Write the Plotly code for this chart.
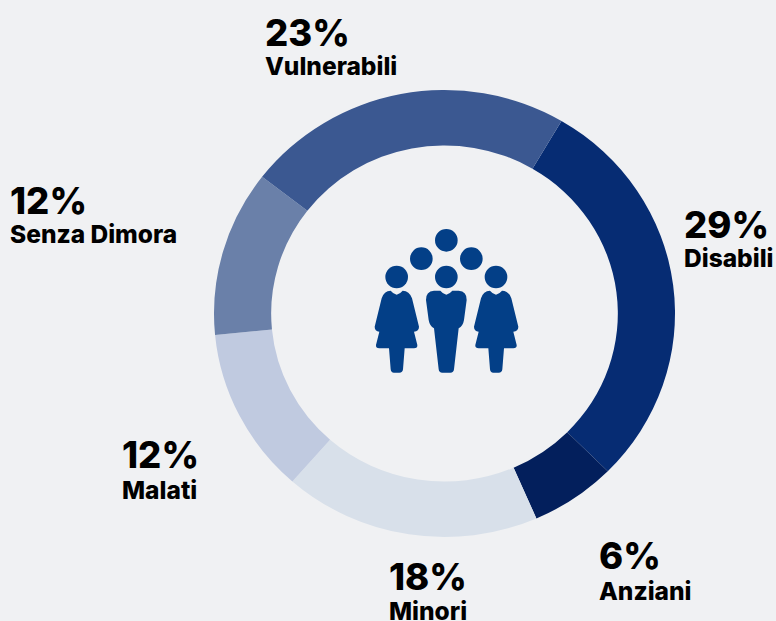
import plotly.graph_objects as go

W, H = 776, 621
categories = ["Disabili", "Anziani", "Minori", "Malati", "Senza Dimora", "Vulnerabili"]
values = [29, 6, 18, 12, 12, 23]
colors = ["#062c73", "#031f5c", "#d8e0ea", "#c0cae0", "#6a80a9", "#3b5891"]
label_left = [684, 599, 389, 122, 10, 265]
value_mid = [225, 556, 577, 455, 201, 33]
name_mid = [258, 591, 611, 490, 234, 66]

BG = "#f0f1f3"
ICON = "#033f87"
FONT = "Inter, 'Open Sans', sans-serif"
CX, CY, R = 444.5, 313.5, 223.5
X_STRETCH = 230.5 / 223.5


def px(x):
    return x / W


def py(y):
    return 1 - y / H


def zoom_path(cmds):
    """Icon outline given in pixels of a 3x crop at (360,220); converted to paper fractions."""
    out = []
    for c in cmds:
        op, pts = c[0], c[1:]
        out.append(op + " ".join(f"{px(360 + a / 3):.5f},{py(220 + b / 3):.5f}" for a, b in pts))
    return " ".join(out) + " Z"


def woman(dx):
    p = [("M", (110, 224)), ("Q", (100, 222), (92, 212)), ("Q", (72, 212), (65, 235)),
         ("L", (44, 320)), ("Q", (44, 333), (58, 335)), ("L", (48, 375)), ("Q", (47, 385), (58, 385)),
         ("L", (87, 385)), ("L", (92, 448)), ("Q", (93, 458), (102, 458)), ("L", (118, 458)),
         ("Q", (128, 458), (129, 448)), ("L", (134, 385)), ("L", (162, 385)), ("Q", (173, 385), (172, 375)),
         ("L", (162, 335)), ("Q", (177, 333), (177, 320)), ("L", (156, 235)), ("Q", (148, 212), (128, 212)),
         ("Q", (120, 222), (110, 224))]
    return [(c[0], *[(a + dx, b) for a, b in c[1:]]) for c in p]


man = [("M", (259, 224)), ("Q", (249, 222), (241, 212)), ("L", (222, 212)), ("Q", (197, 214), (198, 240)),
       ("L", (206, 300)), ("Q", (209, 318), (222, 325)), ("L", (236, 448)), ("Q", (237, 458), (247, 458)),
       ("L", (271, 458)), ("Q", (281, 458), (282, 448)), ("L", (296, 325)), ("Q", (309, 318), (312, 300)),
       ("L", (320, 240)), ("Q", (321, 214), (296, 212)), ("L", (277, 212)), ("Q", (269, 222), (259, 224))]

shapes = [dict(type="path", xref="paper", yref="paper", path=zoom_path(p), fillcolor=ICON, line_width=0)
          for p in (woman(0), man, woman(298))]
for hx, hy, r in [(259, 61, 34), (184, 116, 34), (334, 116, 34), (259, 171, 34), (110, 171, 34), (408, 171, 34)]:
    x, y = 360 + hx / 3, 220 + hy / 3
    r = r / 3
    shapes.append(dict(type="circle", xref="paper", yref="paper", x0=px(x - r), x1=px(x + r),
                       y0=py(y + r), y1=py(y - r), fillcolor=ICON, line_width=0))

annotations = []
for cat, v, lx, vm, nm in zip(categories, values, label_left, value_mid, name_mid):
    annotations.append(dict(text=f"{v}%", x=px(lx), y=py(vm), xref="paper", yref="paper", xanchor="left",
                            yanchor="middle", showarrow=False, xshift=-2,
                            font=dict(family=FONT, size=36.5, color="#000000", weight=800)))
    annotations.append(dict(text=cat, x=px(lx), y=py(nm), xref="paper", yref="paper", xanchor="left",
                            yanchor="middle", showarrow=False, xshift=-2,
                            font=dict(family=FONT, size=24.5, color="#000000", weight=800)))

fig = go.Figure(go.Pie(
    labels=categories, values=values, marker=dict(colors=colors, line_width=0),
    hole=0.752, sort=False, direction="clockwise", rotation=30.5, textinfo="none", showlegend=False,
    domain=dict(x=[px(CX - R), px(CX + R)], y=[py(CY + R), py(CY - R)]),
))
fig.update_layout(width=W, height=H, margin=dict(l=0, r=0, t=0, b=0), paper_bgcolor=BG, plot_bgcolor=BG,
                  shapes=shapes, annotations=annotations)
post = f"""
document.body.style.margin = '0';
document.body.style.background = '{BG}';
document.documentElement.style.overflow = 'hidden';
var pl = document.querySelector('.pielayer');
if (pl) pl.setAttribute('transform', 'translate({CX},{CY}) scale({X_STRETCH},1) translate({-CX},{-CY})');
"""
fig.write_html("out.html", config=dict(displayModeBar=False), post_script=post)
